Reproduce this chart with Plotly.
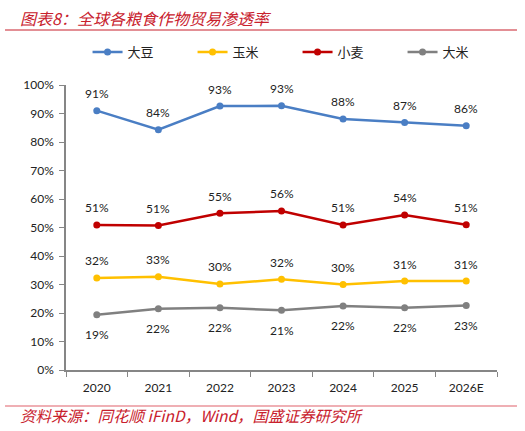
import plotly.graph_objects as go

years = ["2020", "2021", "2022", "2023", "2024", "2025", "2026E"]
soy = [0.910, 0.843, 0.926, 0.927, 0.881, 0.868, 0.857]
corn = [0.323, 0.327, 0.302, 0.318, 0.300, 0.312, 0.312]
wheat = [0.509, 0.507, 0.550, 0.558, 0.509, 0.544, 0.510]
rice = [0.194, 0.215, 0.218, 0.210, 0.225, 0.218, 0.226]

series = [
    ("大豆", soy, "#4A7EC4", 17),
    ("玉米", corn, "#FFC000", 17),
    ("小麦", wheat, "#C00000", 17),
    ("大米", rice, "#808080", -20),
]

FONT = "Lato, 'Noto Sans CJK SC', sans-serif"
fig = go.Figure()
annotations = []
for name, vals, color, shift in series:
    fig.add_trace(go.Scatter(
        x=years, y=vals, name=name, mode="lines+markers",
        line=dict(color=color, width=2.5),
        marker=dict(color=color, size=7),
    ))
    for i, v in enumerate(vals):
        annotations.append(dict(
            x=i, y=v, xref="x", yref="y", text=f"{round(v*100):.0f}%",
            showarrow=False, yshift=shift,
            font=dict(size=12, color="#222222", family=FONT),
        ))

# Title and source
annotations.append(dict(
    xref="paper", yref="paper", x=-0.111, y=1.235, xanchor="left", yanchor="middle",
    text="<i>图表8：全球各粮食作物贸易渗透率</i>", showarrow=False,
    font=dict(size=16, color="#C8202C", family="'Noto Sans CJK SC', sans-serif"),
))
annotations.append(dict(
    xref="paper", yref="paper", x=-0.111, y=-0.158, xanchor="left", yanchor="middle",
    text="<i>资料来源：同花顺 iFinD，Wind，国盛证券研究所</i>", showarrow=False,
    font=dict(size=15.5, color="#C8202C", family="'Noto Sans CJK SC', sans-serif"),
))

shapes = [
    dict(type="line", xref="paper", yref="paper", x0=-0.1415, x1=1.0464, y0=1.193, y1=1.193,
         line=dict(color="#C8202C", width=1.2)),
    dict(type="line", xref="paper", yref="paper", x0=-0.1415, x1=1.0464, y0=-0.1263, y1=-0.1263,
         line=dict(color="#E0606A", width=1.2)),
]

fig.update_layout(
    width=525, height=431,
    margin=dict(l=66, r=28, t=85, b=61),
    paper_bgcolor="white", plot_bgcolor="white",
    font=dict(family=FONT, size=12, color="#222222"),
    showlegend=True,
    legend=dict(orientation="h", x=0.05, y=1.116, xanchor="left", yanchor="middle",
                entrywidth=60, entrywidthmode="pixels",
                font=dict(size=13, family="'Noto Sans CJK SC', sans-serif", color="#222222")),
    annotations=annotations,
    shapes=shapes,
    xaxis=dict(type="category", range=[-0.5, 6.5], showline=True, linecolor="#868686", linewidth=1.5,
               ticks="outside", tickson="boundaries", ticklen=5, tickcolor="#868686",
               ticklabelstandoff=6, automargin=False,
               showgrid=False, tickfont=dict(size=12, family=FONT)),
    yaxis=dict(range=[0, 1.0], dtick=0.1, tickformat=".0%", showline=True, linecolor="#868686",
               linewidth=1.5, ticks="outside", ticklen=5, tickcolor="#868686", showgrid=False,
               automargin=False, ticklabelstandoff=3,
               zeroline=False, tickfont=dict(size=12, family=FONT)),
)

fig.write_html("out.html", config={"displayModeBar": False},
               post_script="document.body.style.margin='0';document.body.style.overflow='hidden';")
